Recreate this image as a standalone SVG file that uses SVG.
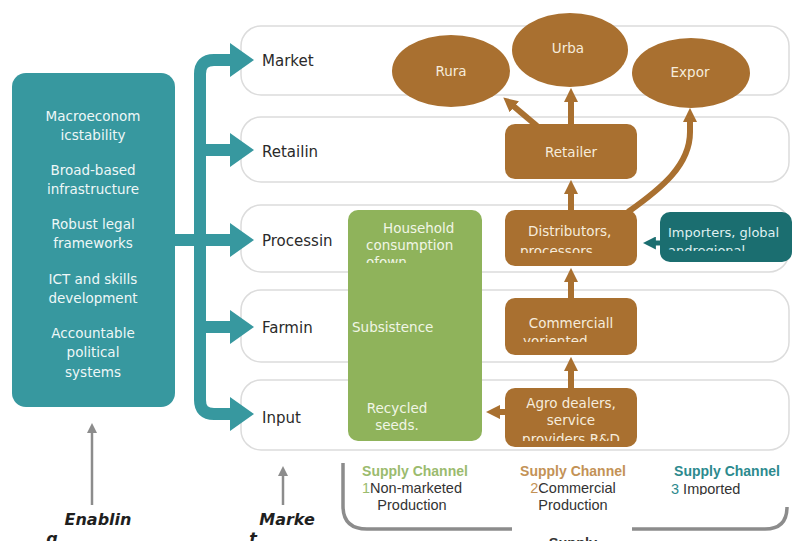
<svg xmlns="http://www.w3.org/2000/svg" width="792" height="541" viewBox="0 0 792 541">
<style>
.band{fill:#ffffff;stroke:#dcdcdc;stroke-width:1.5}
.lbl{font-family:"DejaVu Sans",sans-serif;font-size:15px;fill:#2a2a2a}
.enb{font-family:"DejaVu Sans",sans-serif;font-size:13.5px;fill:#eef7f7;text-anchor:middle}
.bt{font-family:"DejaVu Sans",sans-serif;font-size:13.5px;fill:#f6ecdc}
.gt{font-family:"DejaVu Sans",sans-serif;font-size:13.5px;fill:#f1f6e6}
.it{font-family:"DejaVu Sans",sans-serif;font-size:13px;fill:#dff0f0}
.mid{text-anchor:middle}
.brown{fill:#a97030}
.tealarr{fill:none;stroke:#37989f;stroke-width:12;stroke-linejoin:round}
.barr{fill:none;stroke:#a97030;stroke-width:6}
.gray{fill:none;stroke:#8c8c8c;stroke-width:2.5}
.sc{font-family:"Liberation Sans",Arial,sans-serif;font-size:14px;font-weight:bold}
.sc2{font-family:"Liberation Sans",Arial,sans-serif;font-size:14.5px;fill:#333333}
.bi{font-family:"DejaVu Sans",sans-serif;font-size:16px;font-weight:bold;font-style:italic;fill:#1f1f1f}
</style>
<defs>
<marker id="ahT" viewBox="0 0 24 34" refX="2" refY="17" markerWidth="24" markerHeight="34" markerUnits="userSpaceOnUse" orient="auto"><path d="M0,0 L24,17 L0,34 z" fill="#37989f"/></marker>
<marker id="ahB" viewBox="0 0 10 10" refX="3" refY="5" markerWidth="2.4" markerHeight="2.4" orient="auto"><path d="M0,0 L10,5 L0,10 z" fill="#a97030"/></marker>
<marker id="ahD" viewBox="0 0 10 10" refX="3" refY="5" markerWidth="2.6" markerHeight="2.6" orient="auto"><path d="M0,0 L10,5 L0,10 z" fill="#1b6e70"/></marker>
<marker id="ahG" viewBox="0 0 10 10" refX="3" refY="5" markerWidth="4" markerHeight="4" orient="auto"><path d="M0,0 L10,5 L0,10 z" fill="#8c8c8c"/></marker>
<clipPath id="cDist" clipPathUnits="userSpaceOnUse"><rect x="505" y="210" width="132" height="43"/></clipPath>
<clipPath id="cComm" clipPathUnits="userSpaceOnUse"><rect x="505" y="298" width="132" height="44"/></clipPath>
<clipPath id="cAgro" clipPathUnits="userSpaceOnUse"><rect x="505" y="388" width="132" height="53"/></clipPath>
<clipPath id="cImp" clipPathUnits="userSpaceOnUse"><rect x="660" y="212" width="130" height="39"/></clipPath>
<clipPath id="cGreen" clipPathUnits="userSpaceOnUse"><rect x="348" y="210" width="134" height="53"/></clipPath>
<clipPath id="cImpTxt" clipPathUnits="userSpaceOnUse"><rect x="660" y="460" width="132" height="35"/></clipPath>
</defs>

<g id="rows">
<rect class="band" x="241" y="26" width="548" height="69" rx="20"/>
<rect class="band" x="241" y="117" width="548" height="65" rx="20"/>
<rect class="band" x="241" y="205" width="548" height="67" rx="20"/>
<rect class="band" x="241" y="290" width="548" height="72" rx="20"/>
<rect class="band" x="241" y="380" width="548" height="70" rx="20"/>
<text class="lbl" x="262" y="66">Market</text>
<text class="lbl" x="262" y="157">Retailin</text>
<text class="lbl" x="262" y="246">Processin</text>
<text class="lbl" x="262" y="333">Farmin</text>
<text class="lbl" x="262" y="423">Input</text>
</g>

<g id="enabling">
<rect x="12" y="73" width="163" height="334" rx="14" fill="#37989f"/>
<text class="enb" x="93" y="121">Macroeconom</text>
<text class="enb" x="93" y="140">icstability</text>
<text class="enb" x="93" y="175">Broad-based</text>
<text class="enb" x="93" y="194">infrastructure</text>
<text class="enb" x="93" y="229">Robust legal</text>
<text class="enb" x="93" y="248">frameworks</text>
<text class="enb" x="93" y="284">ICT and skills</text>
<text class="enb" x="93" y="303">development</text>
<text class="enb" x="93" y="338">Accountable</text>
<text class="enb" x="93" y="357">political</text>
<text class="enb" x="93" y="377">systems</text>
</g>

<g id="rura"><ellipse class="brown" cx="451" cy="71" rx="59" ry="36"/><text class="bt mid" x="451" y="76">Rura</text></g>
<g id="urba"><ellipse class="brown" cx="570" cy="50" rx="58" ry="37"/><text class="bt mid" x="568" y="53">Urba</text></g>
<g id="expor"><ellipse class="brown" cx="691" cy="73" rx="59" ry="35"/><text class="bt mid" x="690" y="77">Expor</text></g>
<g id="retailer"><rect class="brown" x="505" y="124" width="132" height="55" rx="10"/><text class="bt mid" x="571" y="157">Retailer</text></g>
<g id="distributors"><rect class="brown" x="505" y="210" width="132" height="56" rx="10"/>
<g clip-path="url(#cDist)"><text class="bt" x="528" y="236">Distributors,</text><text class="bt" x="520" y="256">processors</text></g></g>
<g id="commercial"><rect class="brown" x="505" y="298" width="132" height="57" rx="10"/>
<g clip-path="url(#cComm)"><text class="bt mid" x="571" y="328">Commerciall</text><text class="bt" x="523" y="346">yoriented</text></g></g>
<g id="agro"><rect class="brown" x="505" y="388" width="132" height="59" rx="10"/>
<g clip-path="url(#cAgro)"><text class="bt mid" x="571" y="408">Agro dealers,</text><text class="bt mid" x="571" y="425">service</text><text class="bt mid" x="571" y="444">providers R&amp;D</text></g></g>
<g id="importers"><rect x="660" y="212" width="132" height="50" rx="10" fill="#1b6e70"/>
<g clip-path="url(#cImp)"><text class="it" x="668" y="237">Importers, global</text><text class="it" x="668" y="255">andregional</text></g></g>
<g id="subsistence"><rect x="348" y="210" width="134" height="231" rx="10" fill="#8fb35b"/>
<g clip-path="url(#cGreen)"><text class="gt" x="383" y="233">Household</text><text class="gt" x="366" y="250">consumption</text><text class="gt" x="366" y="267">ofown</text></g>
<text class="gt" x="352" y="332">Subsistence</text>
<text class="gt mid" x="397" y="413">Recycled</text>
<text class="gt mid" x="397" y="430">seeds.</text></g>

<g id="connectors">
<path class="tealarr" d="M200,240 L200,74 Q200,60 214,60 L232,60" marker-end="url(#ahT)"/>
<path class="tealarr" d="M200,240 L200,400 Q200,414 214,414 L232,414" marker-end="url(#ahT)"/>
<path class="tealarr" d="M200,150 L232,150" marker-end="url(#ahT)"/>
<path class="tealarr" d="M170,240 L232,240" marker-end="url(#ahT)"/>
<path class="tealarr" d="M200,327 L232,327" marker-end="url(#ahT)"/>
<path class="barr" d="M537,126 L511,104" marker-end="url(#ahB)"/>
<path class="barr" d="M571,124 L571,98" marker-end="url(#ahB)"/>
<path class="barr" d="M628,212 C662,188 690,165 690,132 L690,118" marker-end="url(#ahB)"/>
<path class="barr" d="M571,210 L571,190" marker-end="url(#ahB)"/>
<path class="barr" d="M571,298 L571,278" marker-end="url(#ahB)"/>
<path class="barr" d="M571,388 L571,367" marker-end="url(#ahB)"/>
<path class="barr" d="M505,412 L496,412" marker-end="url(#ahB)"/>
<path d="M660,243 L652,243" fill="none" stroke="#1b6e70" stroke-width="5" marker-end="url(#ahD)"/>
<path class="gray" d="M92,505 L92,430" marker-end="url(#ahG)"/>
<path class="gray" d="M283,505 L283,473" marker-end="url(#ahG)"/>
<path d="M343,463 L343,506 Q343,529 367,529 L512,529 M632,529 L765,529 Q787,529 787,507" fill="none" stroke="#8c8c8c" stroke-width="3.5"/>
</g>

<g id="bottom-labels">
<text class="bi mid" x="98" y="525">Enablin</text>
<text class="bi mid" x="52" y="544">g</text>
<text class="bi mid" x="287" y="525">Marke</text>
<text class="bi mid" x="253" y="544">t</text>
<text class="sc mid" x="415" y="476" fill="#9bbb6e">Supply Channel</text>
<text class="sc2" x="362" y="493"><tspan fill="#9bbb6e">1</tspan>Non-marketed</text>
<text class="sc2 mid" x="412" y="510">Production</text>
<text class="sc mid" x="573" y="476" fill="#c39256">Supply Channel</text>
<text class="sc2 mid" x="573" y="493"><tspan fill="#c39256">2</tspan>Commercial</text>
<text class="sc2 mid" x="573" y="510">Production</text>
<text class="sc mid" x="727" y="476" fill="#2c8a8e">Supply Channel</text>
<g clip-path="url(#cImpTxt)"><text class="sc2" x="671" y="494"><tspan fill="#2c8a8e">3</tspan> Imported</text></g>
<text class="sc2 mid" x="573" y="548" font-weight="bold" fill="#222">Supply</text>
</g>
</svg>
